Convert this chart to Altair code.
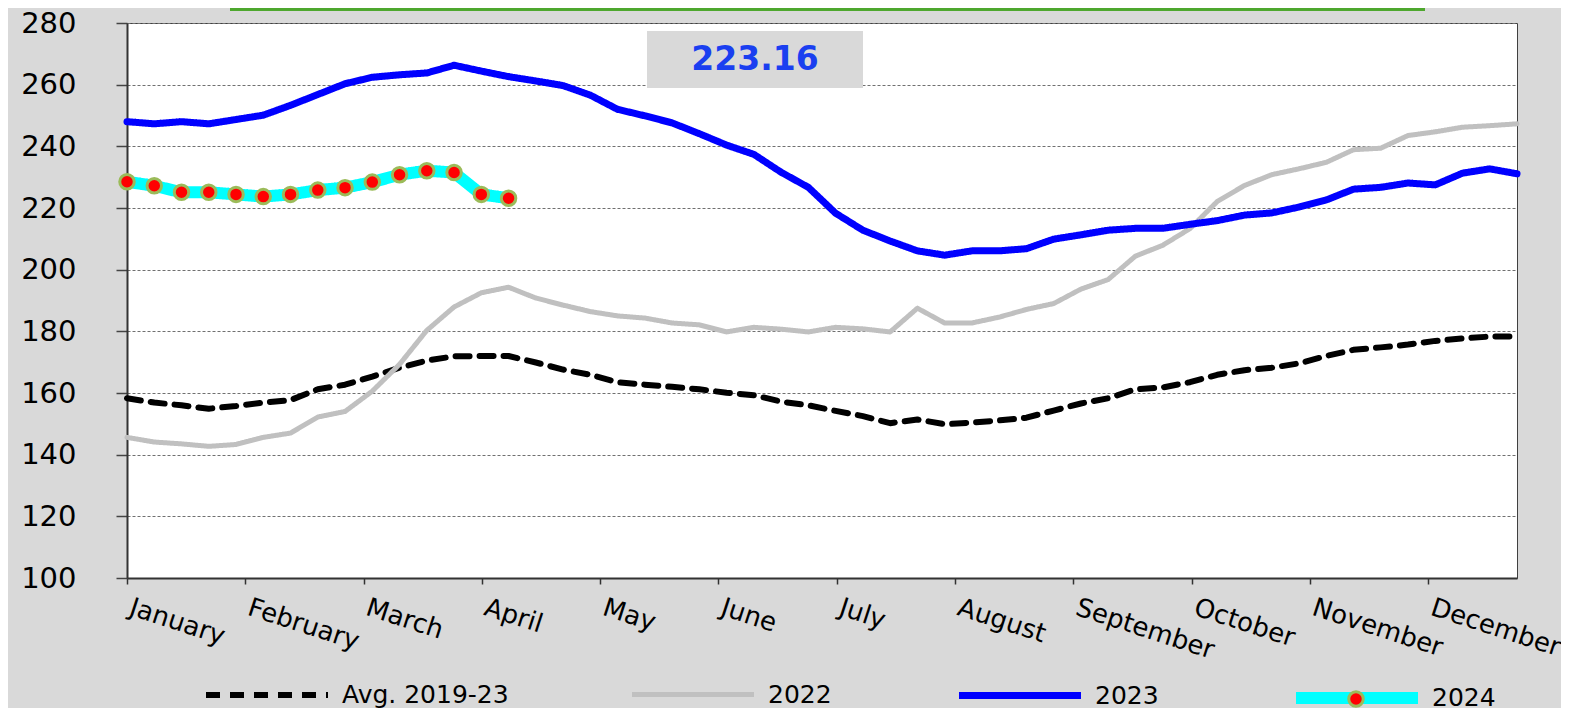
import altair as alt
import pandas as pd

weeks = list(range(1, 53))
series_names = ["Avg. 2019-23", "2022", "2023", "2024"]
months = ["January", "February", "March", "April", "May", "June", "July",
          "August", "September", "October", "November", "December"]

avg_2019_23 = [158.3, 156.9, 156.0, 154.9, 155.8, 156.9, 157.7, 161.2, 162.7, 165.3,
               168.2, 170.5, 171.9, 172.0, 172.0, 169.9, 167.6, 165.9, 163.5, 162.7,
               162.0, 161.2, 160.1, 159.3, 157.2, 156.0, 154.2, 152.5, 150.2, 151.4,
               149.9, 150.4, 151.1, 152.0, 154.3, 156.6, 158.3, 161.2, 161.8, 163.5,
               165.9, 167.4, 168.2, 169.6, 172.0, 174.0, 174.8, 175.7, 176.9, 177.7,
               178.3, 178.3]
y2022 = [145.6, 144.1, 143.5, 142.7, 143.3, 145.6, 147.0, 152.2, 154.0, 160.6,
         169.3, 180.3, 187.9, 192.5, 194.3, 190.8, 188.5, 186.4, 185.0, 184.3,
         182.7, 182.1, 179.8, 181.3, 180.7, 179.8, 181.3, 180.8, 179.8, 187.5,
         182.7, 182.7, 184.6, 187.1, 189.0, 193.7, 196.8, 204.4, 207.9, 213.3,
         222.1, 227.3, 230.8, 232.7, 234.8, 238.9, 239.4, 243.5, 244.7, 246.2,
         246.7, 247.3]
y2023 = [248.0, 247.3, 248.0, 247.3, 248.7, 250.1, 253.3, 256.8, 260.3, 262.4,
         263.2, 263.8, 266.3, 264.4, 262.6, 261.2, 259.7, 256.6, 252.0, 249.9,
         247.6, 244.1, 240.4, 237.4, 231.6, 226.7, 218.3, 212.8, 209.3, 206.1,
         204.7, 206.1, 206.1, 206.8, 209.9, 211.3, 212.8, 213.4, 213.4, 214.7,
         215.9, 217.7, 218.4, 220.3, 222.6, 226.1, 226.7, 228.1, 227.5, 231.3,
         232.7, 231.1]
y2024 = [228.5, 227.2, 225.1, 225.1, 224.4, 223.7, 224.4, 225.8, 226.6, 228.4,
         230.8, 232.1, 231.5, 224.4, 223.16]

month_step = 4.34
month_ticks = [1 + i * month_step for i in range(12)]
y_ticks = list(range(100, 281, 20))

rows = []
for name, vals in zip(series_names, [avg_2019_23, y2022, y2023, y2024]):
    for w, v in zip(weeks, vals):
        rows.append({"week": w, "value": v, "series": name, "marker": "2024"})
df = pd.DataFrame(rows)

base = alt.Chart(df)

x_enc = alt.X(
    "week:Q",
    scale=alt.Scale(domain=[1, 52], nice=False, zero=False),
    axis=alt.Axis(
        values=month_ticks,
        labelExpr="%s[round((datum.value - 1) / %s)]" % (str(months), month_step),
        title=None, grid=False, labelAngle=18, labelAlign="left", labelBaseline="top",
        labelFont="DejaVu Sans", labelFontSize=26, labelColor="#000000",
        labelPadding=10, labelOffset=7, tickSize=6, tickColor="#333333", tickWidth=1.5,
        domainColor="#333333", domainWidth=2, labelOverlap=False, labelFlush=False,
    ),
)
y_enc = alt.Y(
    "value:Q",
    scale=alt.Scale(domain=[100, 280], nice=False, zero=False),
    axis=alt.Axis(
        values=y_ticks, title=None, grid=True, gridColor="#707070", gridDash=[3, 2],
        gridWidth=1, labelFont="DejaVu Sans", labelFontSize=29, labelColor="#000000",
        labelPadding=40, tickSize=11, tickColor="#444444", tickWidth=1.5,
        domainColor="#333333", domainWidth=2,
    ),
)

lines = base.mark_line(strokeCap="round", strokeJoin="round").encode(
    x=x_enc,
    y=y_enc,
    color=alt.Color(
        "series:N",
        scale=alt.Scale(domain=series_names, range=["#000000", "#C0C0C0", "#0000FF", "#00FFFF"]),
        legend=alt.Legend(
            orient="none", legendX=73, legendY=608, direction="horizontal", columns=4,
            gridAlign="none", title=None, symbolType="stroke", symbolSize=14884,
            labelFont="DejaVu Sans", labelFontSize=25, labelColor="#000000",
            labelOffset=8, columnPadding=113, labelLimit=400,
        ),
    ),
    strokeDash=alt.StrokeDash(
        "series:N",
        scale=alt.Scale(type="ordinal", domain=series_names,
                        range=[[14, 10], [1, 0], [1, 0], [1, 0]]),
    ),
    strokeWidth=alt.StrokeWidth(
        "series:N",
        scale=alt.Scale(type="ordinal", domain=series_names, range=[6, 5, 7, 12]),
    ),
    detail="series:N",
)

points = base.transform_filter(alt.datum.series == "2024").mark_point(
    filled=True, size=210, stroke="#9BBB59", strokeWidth=3, opacity=1
).encode(
    x="week:Q",
    y="value:Q",
    fill=alt.Fill(
        "marker:N",
        scale=alt.Scale(domain=["2024"], range=["#FF0000"]),
        legend=alt.Legend(
            orient="none", legendX=1220, legendY=667, title=None, symbolType="circle",
            symbolSize=210, symbolStrokeColor="#9BBB59", symbolStrokeWidth=3,
            labelExpr="''", symbolOpacity=1,
        ),
    ),
)

last = base.transform_filter(
    (alt.datum.series == "2024") & (alt.datum.week == 15)
)

box = last.mark_rect(color="#D9D9D9").encode(
    x=alt.value(520), x2=alt.value(736), y=alt.value(8), y2=alt.value(65)
)
label = last.mark_text(
    font="DejaVu Sans", fontSize=33, fontWeight="bold", color="#1A3FF0",
    align="center", baseline="middle",
).encode(
    x=alt.value(628), y=alt.value(37), text=alt.Text("value:Q", format=".2f")
)
green = last.mark_rule(color="#4EA72E", strokeWidth=3).encode(
    x=alt.value(103), x2=alt.value(1298), y=alt.value(-13.5)
)

chart = alt.layer(lines, points, box, label, green).properties(
    width=1390, height=555,
    autosize=alt.AutoSizeParams(type="none"),
    padding={"left": 119, "top": 15, "right": 44, "bottom": 130},
    background="#D9D9D9",
).configure_view(fill="#FFFFFF", stroke="#404040", strokeWidth=1)

chart.save("out.html", embed_options={"renderer": "svg", "actions": False})
